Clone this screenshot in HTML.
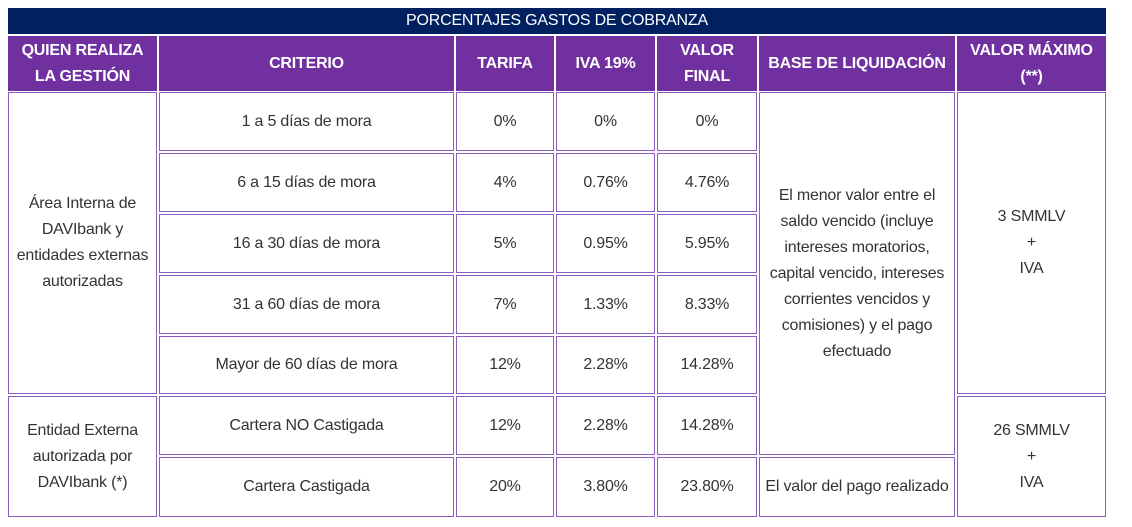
<!DOCTYPE html>
<html><head><meta charset="utf-8"><style>
body{margin:0;width:1132px;height:527px;background:#fff;position:relative;font-family:"Liberation Sans",sans-serif;overflow:hidden}
.c{position:absolute;box-sizing:border-box;border:1px solid #8a5cc0;display:flex;align-items:center;justify-content:center;text-align:center;font-size:16px;color:#333;line-height:26px;letter-spacing:-0.2px}
.h{background:#7030a0;color:#fff;font-weight:bold;font-size:16px;line-height:26px;border-color:#7030a0}
.t{background:#002060;color:#fff;font-size:16px;border:none}
</style></head><body>
<div class="c t" style="left:8px;top:8px;width:1098px;height:26px">PORCENTAJES GASTOS DE COBRANZA</div>
<div class="c h" style="left:8px;top:36px;width:149px;height:55px">QUIEN REALIZA<br>LA GESTIÓN</div>
<div class="c h" style="left:159px;top:36px;width:295px;height:55px">CRITERIO</div>
<div class="c h" style="left:456px;top:36px;width:98px;height:55px">TARIFA</div>
<div class="c h" style="left:556px;top:36px;width:99px;height:55px">IVA 19%</div>
<div class="c h" style="left:657px;top:36px;width:100px;height:55px">VALOR<br>FINAL</div>
<div class="c h" style="left:759px;top:36px;width:196px;height:55px">BASE DE LIQUIDACIÓN</div>
<div class="c h" style="left:957px;top:36px;width:149px;height:55px">VALOR MÁXIMO<br>(**)</div>

<div class="c" style="left:8px;top:92px;width:149px;height:302px">Área Interna de<br>DAVIbank y<br>entidades externas<br>autorizadas</div>
<div class="c" style="left:8px;top:396px;width:149px;height:121px">Entidad Externa<br>autorizada por<br>DAVIbank (*)</div>

<div class="c" style="left:159px;top:92px;width:295px;height:59px">1 a 5 días de mora</div>
<div class="c" style="left:456px;top:92px;width:98px;height:59px">0%</div>
<div class="c" style="left:556px;top:92px;width:99px;height:59px">0%</div>
<div class="c" style="left:657px;top:92px;width:100px;height:59px">0%</div>

<div class="c" style="left:159px;top:153px;width:295px;height:59px">6 a 15 días de mora</div>
<div class="c" style="left:456px;top:153px;width:98px;height:59px">4%</div>
<div class="c" style="left:556px;top:153px;width:99px;height:59px">0.76%</div>
<div class="c" style="left:657px;top:153px;width:100px;height:59px">4.76%</div>

<div class="c" style="left:159px;top:214px;width:295px;height:59px">16 a 30 días de mora</div>
<div class="c" style="left:456px;top:214px;width:98px;height:59px">5%</div>
<div class="c" style="left:556px;top:214px;width:99px;height:59px">0.95%</div>
<div class="c" style="left:657px;top:214px;width:100px;height:59px">5.95%</div>

<div class="c" style="left:159px;top:275px;width:295px;height:59px">31 a 60 días de mora</div>
<div class="c" style="left:456px;top:275px;width:98px;height:59px">7%</div>
<div class="c" style="left:556px;top:275px;width:99px;height:59px">1.33%</div>
<div class="c" style="left:657px;top:275px;width:100px;height:59px">8.33%</div>

<div class="c" style="left:159px;top:336px;width:295px;height:58px">Mayor de 60 días de mora</div>
<div class="c" style="left:456px;top:336px;width:98px;height:58px">12%</div>
<div class="c" style="left:556px;top:336px;width:99px;height:58px">2.28%</div>
<div class="c" style="left:657px;top:336px;width:100px;height:58px">14.28%</div>

<div class="c" style="left:159px;top:396px;width:295px;height:59px">Cartera NO Castigada</div>
<div class="c" style="left:456px;top:396px;width:98px;height:59px">12%</div>
<div class="c" style="left:556px;top:396px;width:99px;height:59px">2.28%</div>
<div class="c" style="left:657px;top:396px;width:100px;height:59px">14.28%</div>

<div class="c" style="left:159px;top:457px;width:295px;height:60px">Cartera Castigada</div>
<div class="c" style="left:456px;top:457px;width:98px;height:60px">20%</div>
<div class="c" style="left:556px;top:457px;width:99px;height:60px">3.80%</div>
<div class="c" style="left:657px;top:457px;width:100px;height:60px">23.80%</div>

<div class="c" style="left:759px;top:92px;width:196px;height:363px">El menor valor entre el<br>saldo vencido (incluye<br>intereses moratorios,<br>capital vencido, intereses<br>corrientes vencidos y<br>comisiones) y el pago<br>efectuado</div>
<div class="c" style="left:759px;top:457px;width:196px;height:60px">El valor del pago realizado</div>

<div class="c" style="left:957px;top:92px;width:149px;height:302px">3 SMMLV<br>+<br>IVA</div>
<div class="c" style="left:957px;top:396px;width:149px;height:121px">26 SMMLV<br>+<br>IVA</div>
</body></html>
